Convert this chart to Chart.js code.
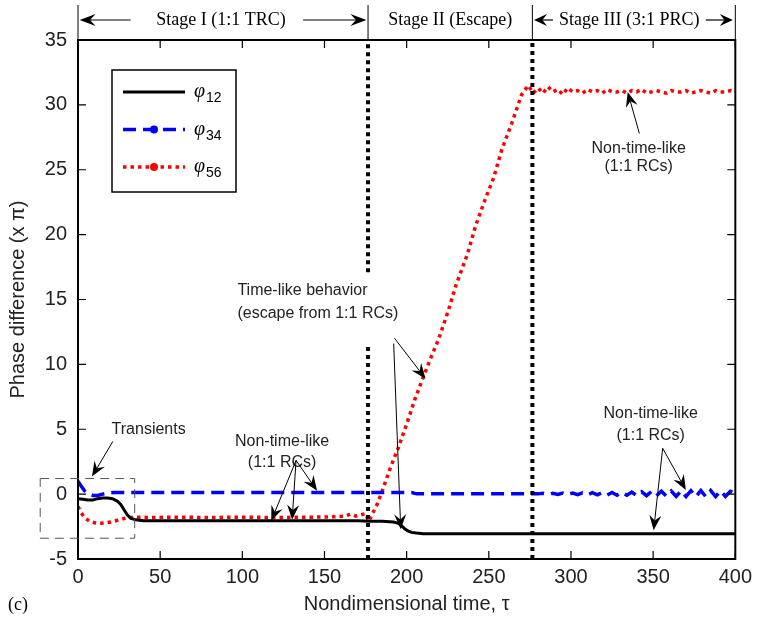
<!DOCTYPE html>
<html><head><meta charset="utf-8">
<script src="https://cdn.jsdelivr.net/npm/chart.js@4/dist/chart.umd.min.js"></script>
<style>html,body{margin:0;padding:0;background:#fff}</style>
</head><body>
<canvas id="c" width="758" height="630"></canvas>
<script>
// ---- data ----
const tau12 = [0,3,6,9,12,15,18,21,24,26,28,30,32,35,40,100,170,178,185,192,195,197,199,201,203,206,210,250,300,350,400];
const phi12 = [-0.35,-0.4,-0.45,-0.45,-0.35,-0.3,-0.3,-0.35,-0.55,-0.8,-1.2,-1.6,-1.85,-1.98,-2.05,-2.05,-2.05,-2.1,-2.1,-2.15,-2.25,-2.45,-2.7,-2.85,-2.95,-3.0,-3.05,-3.05,-3.05,-3.05,-3.05];

const tau34 = [0,2,4,6,9,12,15,18,22,30,100,180,203,206,250,280,283,286,289,292,295,298,301,304,307,310,313,316,319,322,325,328,331,334,337,340,343,346,349,352,355,358,361,364,367,370,373,376,379,382,385,388,391,394,397,400];
const phi34 = [1.0,0.6,0.25,0.05,-0.1,-0.1,0.0,0.08,0.12,0.12,0.12,0.12,0.12,0.02,0.02,0.02,0.06,-0.01,0.07,-0.02,0.08,-0.03,0.08,-0.04,0.09,-0.05,0.11,-0.06,0.12,-0.07,0.13,-0.08,0.14,-0.09,0.16,-0.11,0.18,-0.12,0.2,-0.13,0.22,-0.15,0.24,-0.17,0.25,-0.18,0.27,-0.19,0.27,-0.19,0.27,-0.19,0.25,-0.17,0.22,0.05];

const tau56 = [0,2,4,6,8,10,12,14,17,20,23,26,29,32,36,45,60,80,100,120,140,155,162,166,169,172,175,177,179,182,185,190,195,200,205,210,215,219,225,230,237,242,248,253,258,264,270,
  274,277,280,283,286,289,292,295,298,301,304,307,310,313,316,319,322,325,328,331,334,337,340,343,346,349,352,355,358,361,364,367,370,373,376,379,382,385,388,391,394,397,400];
const phi56 = [-0.95,-1.45,-1.8,-2.0,-2.15,-2.2,-2.25,-2.25,-2.2,-2.15,-2.05,-1.95,-1.85,-1.8,-1.78,-1.8,-1.78,-1.8,-1.78,-1.8,-1.78,-1.75,-1.7,-1.55,-1.7,-1.6,-1.5,-2.1,-1.55,-0.8,0.2,2.0,3.6,5.4,7.3,9.0,10.6,11.8,14.0,16.1,18.5,20.7,22.8,24.4,26.6,28.6,30.8,
  31.5,30.9,31.3,30.9,31.4,31.0,31.2,30.8,31.3,31.0,31.1,30.9,31.2,31.0,31.1,30.9,31.2,31.0,31.0,31.1,30.9,31.1,31.0,31.2,30.9,31.0,31.1,31.0,30.9,31.1,31.0,31.0,31.1,30.9,31.0,31.1,31.0,30.9,31.1,31.0,31.0,31.1,31.0];

const xTicks = [0,50,100,150,200,250,300,350,400];
const yTicks = [-5,0,5,10,15,20,25,30,35];
const stageBounds = [176.5, 276.5];
const seriesNames = ['\u03c6', '\u03c6', '\u03c6'];
const seriesSubs = ['12', '34', '56'];

function pts(t, v){ return t.map((x,i)=>({x:x, y:v[i]})); }

const SANS = '"Liberation Sans", Arial, Helvetica, sans-serif';
const SERIF = '"Liberation Serif", "Times New Roman", serif';

function arrow(ctx,x1,y1,x2,y2,len,half){
  const a=Math.atan2(y2-y1,x2-x1), c=Math.cos(a), s=Math.sin(a);
  const bx=x2-len*c, by=y2-len*s;
  const nx=x2-len*0.65*c, ny=y2-len*0.65*s;
  ctx.beginPath(); ctx.moveTo(x1,y1); ctx.lineTo(nx,ny); ctx.stroke();
  ctx.beginPath(); ctx.moveTo(x2,y2);
  ctx.lineTo(bx - half*s, by + half*c);
  ctx.lineTo(nx,ny);
  ctx.lineTo(bx + half*s, by - half*c);
  ctx.closePath(); ctx.fill();
}

const deco = {
  id:'deco',
  afterDatasetsDraw(chart){
    const ctx=chart.ctx, xs=chart.scales.x, ys=chart.scales.y, ca=chart.chartArea;
    const X=v=>xs.getPixelForValue(v), Y=v=>ys.getPixelForValue(v);
    ctx.save();
    // dotted stage separators (first one interrupted where the text sits)
    ctx.strokeStyle='#000'; ctx.lineWidth=4; ctx.setLineDash([4,4]); ctx.lineCap='butt';
    ctx.beginPath(); ctx.moveTo(X(stageBounds[0]),ca.bottom); ctx.lineTo(X(stageBounds[0]),Y(11.6)); ctx.stroke();
    ctx.beginPath(); ctx.moveTo(X(stageBounds[0]),Y(17.1)); ctx.lineTo(X(stageBounds[0]),ca.top); ctx.stroke();
    ctx.beginPath(); ctx.moveTo(X(stageBounds[1]),ca.bottom); ctx.lineTo(X(stageBounds[1]),ca.top); ctx.stroke();
    ctx.setLineDash([]);
    // frame
    ctx.lineWidth=2; ctx.strokeRect(ca.left,ca.top,ca.right-ca.left,ca.bottom-ca.top);
    // inward ticks
    ctx.lineWidth=1.2;
    xTicks.forEach(t=>{ const p=X(t); ctx.beginPath(); ctx.moveTo(p,ca.bottom); ctx.lineTo(p,ca.bottom-8); ctx.moveTo(p,ca.top); ctx.lineTo(p,ca.top+8); ctx.stroke(); });
    yTicks.forEach(t=>{ const p=Y(t); ctx.beginPath(); ctx.moveTo(ca.left,p); ctx.lineTo(ca.left+8,p); ctx.moveTo(ca.right,p); ctx.lineTo(ca.right-8,p); ctx.stroke(); });
    // separators above plot
    ctx.lineWidth=1;
    [0,stageBounds[0],stageBounds[1],400].forEach(b=>{ ctx.beginPath(); ctx.moveTo(X(b),ca.top); ctx.lineTo(X(b),ca.top-35); ctx.stroke(); });
    // stage labels
    ctx.fillStyle='#000'; ctx.font='18px '+SERIF; ctx.textBaseline='middle'; ctx.textAlign='center';
    const sy=ca.top-20;
    ctx.fillText('Stage I (1:1 TRC)', X(87), sy);
    ctx.fillText('Stage II (Escape)', X(226.5), sy);
    ctx.fillText('Stage III (3:1 PRC)', X(335.5), sy);
    ctx.lineWidth=1.2;
    arrow(ctx, X(32), sy, X(1), sy, 16, 6);
    arrow(ctx, X(137), sy, X(175.5), sy, 16, 6);
    arrow(ctx, X(289), sy, X(277.5), sy, 13, 6);
    arrow(ctx, X(382), sy, X(398.5), sy, 13, 6);
    // transients box
    ctx.strokeStyle='#555'; ctx.lineWidth=1; ctx.setLineDash([9,6]);
    ctx.strokeRect(X(-23), Y(1.2), X(34.5)-X(-23), Y(-3.4)-Y(1.2));
    ctx.setLineDash([]);
    // annotations
    ctx.fillStyle='#222'; ctx.strokeStyle='#000'; ctx.font='16px '+SANS;
    ctx.textAlign='center';
    ctx.fillText('Transients', X(43), Y(5.0));
    ctx.fillText('Non-time-like', X(124.2), Y(4.06));
    ctx.fillText('(1:1 RCs)', X(124.2), Y(2.44));
    ctx.fillText('Non-time-like', X(348.5), Y(6.22));
    ctx.fillText('(1:1 RCs)', X(348.5), Y(4.52));
    ctx.fillText('Non-time-like', X(341.2), Y(26.65));
    ctx.fillText('(1:1 RCs)', X(341.2), Y(25.26));
    ctx.textAlign='left';
    ctx.fillText('Time-like behavior', X(97), Y(15.66));
    ctx.fillText('(escape from 1:1 RCs)', X(97), Y(13.9));
    ctx.fillStyle='#000'; ctx.lineWidth=1;
    arrow(ctx, X(21.2), Y(4.06), X(8.5), Y(1.35), 15, 6);
    arrow(ctx, X(132.7), Y(2.6), X(117.6), Y(-2.06), 15, 6);
    arrow(ctx, X(132.7), Y(2.6), X(130.3), Y(-1.98), 15, 6);
    arrow(ctx, X(132.7), Y(2.6), X(145.5), Y(0.26), 15, 6);
    arrow(ctx, X(192.7), Y(12.0), X(211.5), Y(8.9), 15, 6);
    arrow(ctx, X(192.1), Y(11.6), X(196.4), Y(-2.7), 15, 6);
    arrow(ctx, X(355.8), Y(3.53), X(350.3), Y(-2.78), 15, 6);
    arrow(ctx, X(355.8), Y(3.53), X(369.9), Y(0.32), 15, 6);
    arrow(ctx, X(341.6), Y(27.8), X(334.5), Y(31.0), 15, 6);
    // legend
    const lx=ca.left+34, ly=ca.top+30;
    ctx.strokeStyle='#000'; ctx.lineWidth=1.5;
    ctx.strokeRect(lx, ly, 124, 122);
    const ds=chart.data.datasets;
    [0,1,2].forEach(i=>{
      const yy=ly+22+i*37.5;
      ctx.strokeStyle=ds[i].borderColor; ctx.lineWidth=ds[i].borderWidth;
      ctx.setLineDash(ds[i].borderDash||[]);
      ctx.beginPath(); ctx.moveTo(lx+11, yy); ctx.lineTo(lx+73, yy); ctx.stroke();
      ctx.setLineDash([]);
      if(i>0){ ctx.fillStyle=ds[i].borderColor; ctx.beginPath(); ctx.arc(lx+42, yy, 4, 0, Math.PI*2); ctx.fill(); }
      ctx.fillStyle='#000'; ctx.textAlign='left'; ctx.textBaseline='alphabetic';
      ctx.font='italic 20px '+SERIF; ctx.fillText(seriesNames[i], lx+82, yy+5);
      ctx.font='14px '+SANS; ctx.fillText(seriesSubs[i], lx+94, yy+10);
    });
    // panel label
    ctx.fillStyle='#000'; ctx.font='18px '+SERIF; ctx.textAlign='left'; ctx.textBaseline='middle';
    ctx.fillText('(c)', 8, 605);
    ctx.restore();
  }
};

new Chart(document.getElementById('c'), {
  type:'line',
  data:{ datasets:[
    {label:'phi12', data:pts(tau12,phi12), borderColor:'#000000', borderWidth:3, pointRadius:0, tension:0, fill:false},
    {label:'phi34', data:pts(tau34,phi34), borderColor:'#0000ff', borderWidth:3.5, borderDash:[13,7], pointRadius:0, tension:0, fill:false},
    {label:'phi56', data:pts(tau56,phi56), borderColor:'#ff0000', borderWidth:3.5, borderDash:[3.5,4], pointRadius:0, tension:0, fill:false}
  ]},
  options:{
    responsive:false, animation:false, devicePixelRatio:1,
    layout:{padding:{left:0, top:40, right:20, bottom:0}},
    plugins:{legend:{display:false}, tooltip:{enabled:false}},
    scales:{
      x:{type:'linear', min:0, max:400,
        afterBuildTicks:s=>{ s.ticks=xTicks.map(v=>({value:v})); },
        afterFit:s=>{ s.height=71; },
        grid:{display:false, drawTicks:false}, border:{display:false},
        ticks:{padding:6, color:'#222', font:{family:SANS, size:20}, maxRotation:0},
        title:{display:true, text:'Nondimensional time, \u03c4', color:'#222', font:{family:SANS, size:20}, padding:{top:0, bottom:14}}
      },
      y:{type:'linear', min:-5, max:35,
        afterBuildTicks:s=>{ s.ticks=yTicks.map(v=>({value:v})); },
        afterFit:s=>{ s.width=78; },
        grid:{display:false, drawTicks:false}, border:{display:false},
        ticks:{padding:11, color:'#222', font:{family:SANS, size:20}},
        title:{display:true, text:'Phase difference (x \u03c0)', color:'#222', font:{family:SANS, size:20}, padding:{top:6, bottom:0}}
      }
    }
  },
  plugins:[deco]
});
</script>
</body></html>
